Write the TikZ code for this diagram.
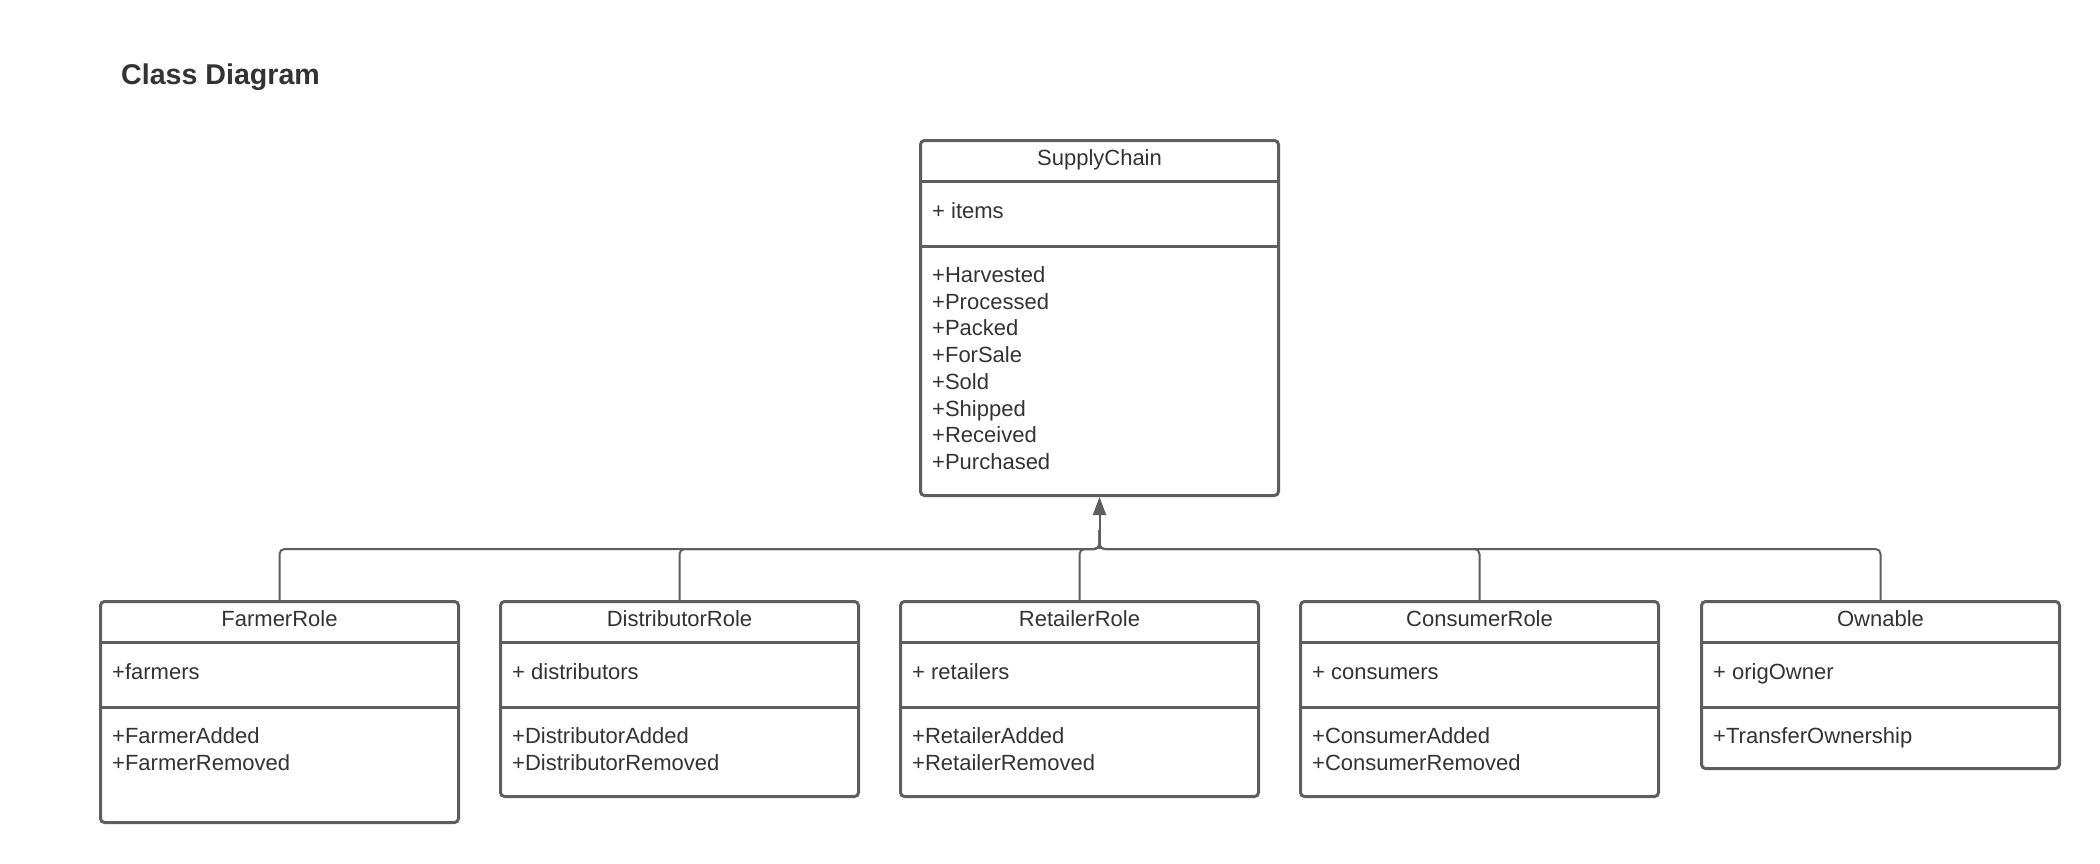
\documentclass[tikz,border=0pt]{standalone}
\usepackage{fontspec}
\setmainfont{Liberation Sans}
\usetikzlibrary{arrows.meta}
\definecolor{linegray}{HTML}{5E5E5E}
\definecolor{textgray}{HTML}{333333}
\tikzset{
  classbox/.style={draw=linegray, line width=3pt, rounded corners=4pt, fill=white, inner sep=0pt, minimum width=358pt},
  divider/.style={draw=linegray, line width=3pt},
  headtext/.style={text=textgray, font=\fontsize{22}{26.7}\selectfont, inner sep=0pt},
  itemtext/.style={text=textgray, font=\fontsize{22}{26.7}\selectfont, inner sep=0pt},
  titletext/.style={text=textgray, font=\fontsize{28.6}{34}\selectfont\bfseries, inner sep=0pt},
  conn/.style={draw=linegray, line width=2pt, rounded corners=5pt},
  genarrow/.style={draw=linegray, line width=2pt, -{Triangle[length=18pt,width=13pt]}, fill=linegray},
}
% #1 name, #2 left, #3 top, #4 bottom (stroke centres), #5 title, #6 attribute, #7 methods
\newcommand{\umlclass}[7]{%
  \node[classbox, minimum height={#4-#3}, anchor=north west, outer sep=0pt] (#1) at (#2,#3) {};
  \draw[divider] ([yshift=-41pt]#1.north west) -- ([yshift=-41pt]#1.north east);
  \draw[divider] ([yshift=-105.5pt]#1.north west) -- ([yshift=-105.5pt]#1.north east);
  \node[headtext, anchor=base] (#1-title) at ([yshift=-24.5pt]#1.north) {#5};
  \node[itemtext, anchor=base west] (#1-attr) at ([xshift=11.5pt,yshift=-78pt]#1.north west) {#6};
  \foreach \m [count=\i from 0] in {#7}
    \node[itemtext, anchor=base west] (#1-m\i) at ([xshift=11.5pt,yshift={-142pt-26.7pt*\i}]#1.north west) {\m};
}
\begin{document}
\begin{tikzpicture}[x=1pt,y=-1pt]
\useasboundingbox (0,0) rectangle (2100,864);
\fill[white] (0,0) rectangle (2100,864);

\node[titletext, anchor=base west] (title) at (121,85) {Class Diagram};

\umlclass{sc}{920.5}{140.5}{495.5}{SupplyChain}{+ items}{+Harvested,+Processed,+Packed,+ForSale,+Sold,+Shipped,+Received,+Purchased}
\umlclass{farmer}{100.5}{601.5}{822.5}{FarmerRole}{+farmers}{+FarmerAdded,+FarmerRemoved}
\umlclass{distributor}{500.5}{601.5}{796.5}{DistributorRole}{+ distributors}{+DistributorAdded,+DistributorRemoved}
\umlclass{retailer}{900.5}{601.5}{796.5}{RetailerRole}{+ retailers}{+RetailerAdded,+RetailerRemoved}
\umlclass{consumer}{1300.5}{601.5}{796.5}{ConsumerRole}{+ consumers}{+ConsumerAdded,+ConsumerRemoved}
\umlclass{ownable}{1701.5}{601.5}{768.5}{Ownable}{+ origOwner}{+TransferOwnership}

\coordinate (hub) at (1099.5,549);
\coordinate (hubup) at (1099.5,530);
\foreach \c in {farmer,distributor,retailer,consumer,ownable}
  \draw[conn] (\c.north) |- (hub) -- (hubup);
\draw[genarrow] (hub) -- ([yshift=-1.5pt]sc.south);
\end{tikzpicture}
\end{document}
